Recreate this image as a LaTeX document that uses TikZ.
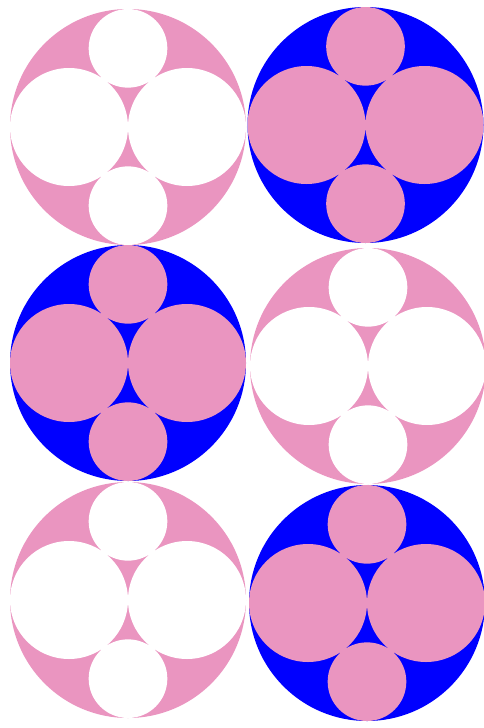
\documentclass[tikz,border=0pt]{standalone}
\usepackage{xcolor}
\definecolor{rosepink}{RGB}{234,149,192}
\definecolor{deepblue}{RGB}{0,0,255}
\usepackage{tikz}

\begin{document}
\begin{tikzpicture}[x=1pt, y=-1pt,
  outerdisc/.style={draw=none},
  innerdisc/.style={draw=none}
]
\useasboundingbox (0,0) rectangle (483,728);

% Discs: centre x, centre y, outer colour, inner colour
\foreach \cx/\cy/\outc/\inc in {128/127/rosepink/white, 365.5/125/deepblue/rosepink,
                                128/363/deepblue/rosepink, 368/366/rosepink/white,
                                128/600/rosepink/white, 367/603/deepblue/rosepink}{
  \fill[outerdisc, \outc] (\cx,\cy) circle[radius=118pt];
  \fill[innerdisc, \inc]
    (\cx-59,\cy) circle[radius=59pt]
    (\cx+59,\cy) circle[radius=59pt]
    (\cx,\cy-78.67) circle[radius=39.33pt]
    (\cx,\cy+78.67) circle[radius=39.33pt];
}
\end{tikzpicture}
\end{document}
